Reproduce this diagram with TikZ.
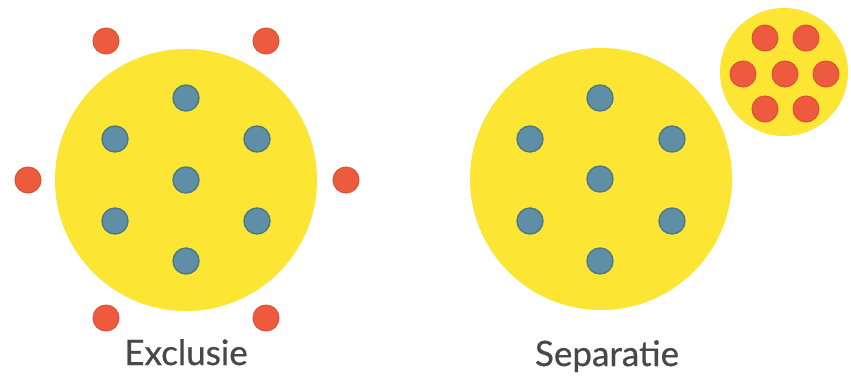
\documentclass[tikz,border=0pt]{standalone}
\usepackage{fontspec}
\setmainfont{Lato}[FakeBold=0.6]
\definecolor{ylw}{HTML}{FCE533}
\definecolor{bluedot}{HTML}{5E8FA6}
\definecolor{blueedge}{HTML}{4F7886}
\definecolor{reddot}{HTML}{EE5A3E}
\definecolor{rededge}{HTML}{D85234}
\definecolor{txt}{HTML}{484848}
\begin{document}
\begin{tikzpicture}[x=1pt,y=-1pt,
  big/.style={circle,fill=ylw,draw=none,inner sep=0pt,minimum size=262pt},
  small/.style={circle,fill=ylw,draw=none,inner sep=0pt,minimum size=128pt},
  bdot/.style={circle,fill=bluedot,draw=blueedge,line width=1.4pt,inner sep=0pt,minimum size=26pt},
  rdot/.style={circle,fill=reddot,draw=rededge,line width=1pt,inner sep=0pt,minimum size=26pt},
  lbl/.style={text=txt,font=\fontsize{35}{40}\selectfont\bfseries,inner sep=0pt,anchor=base}]
\useasboundingbox (0,0) rectangle (851,376);
\fill[white] (0,0) rectangle (851,376);
% left
\node[big] (L) at (186,180) {};
\foreach \n/\x/\y in {a/186/98,b/115/139,c/257/139,d/186/180,e/115/221,f/257/221,g/186/261}
  \node[bdot] (L\n) at (\x,\y) {};
\foreach \n/\x/\y in {a/106/41,b/266/41,c/28/180,d/346/180,e/106/318,f/266/318}
  \node[rdot] (Lr\n) at (\x,\y) {};
\node[lbl] (t1) at (186,365) {\mdseries Exclusie};
% right
\node[big] (R) at (601,179) {};
\foreach \n/\x/\y in {a/600/98,b/530/139,c/672/139,d/600/179,e/530/221,f/672/221,g/600/261}
  \node[bdot] (R\n) at (\x,\y) {};
\node[small] (S) at (784,72) {};
\foreach \n/\x/\y in {a/765/38,b/806/38,c/743/74,d/785/74,e/826/74,f/765/109,g/806/109}
  \node[rdot] (S\n) at (\x,\y) {};
\node[lbl] (t2) at (607,366) {\mdseries Separatie};
\end{tikzpicture}
\end{document}
